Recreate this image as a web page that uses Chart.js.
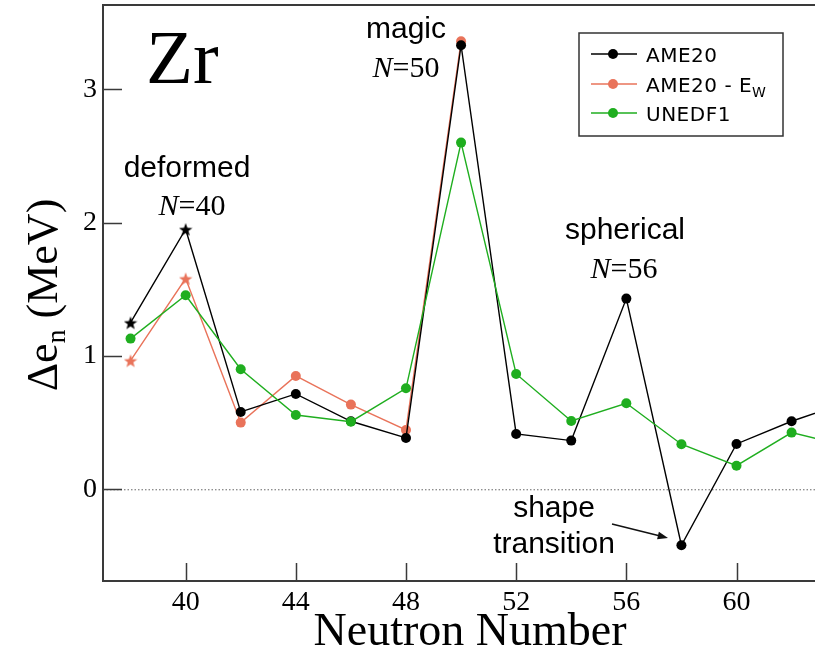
<!DOCTYPE html>
<html lang="en">
<head>
  <meta charset="UTF-8" />
  <title>Zr neutron gap</title>
  <script src="https://cdn.jsdelivr.net/npm/chart.js"></script>
  <style>
    html, body { margin: 0; padding: 0; background: #fff; overflow: hidden; }
    canvas { display: block; }
  </style>
</head>
<body>
  <canvas id="gapChart" width="815" height="655"></canvas>

  <script>
    // Δe_n for Zr isotopes vs neutron number
    const neutronNumber = [38, 40, 42, 44, 46, 48, 50, 52, 54, 56, 58, 60, 62, 64];
    const ame20        = [1.25, 1.95, 0.58, 0.715, 0.51, 0.385, 3.33, 0.415, 0.365, 1.43, -0.42, 0.34, 0.51, 0.65];
    const ame20MinusEw = [0.965, 1.58, 0.50, 0.85, 0.635, 0.445, 3.36];
    const unedf1       = [1.13, 1.455, 0.90, 0.557, 0.507, 0.757, 2.60, 0.865, 0.512, 0.645, 0.338, 0.177, 0.425, 0.325];
    const starredN = [38, 40];   // estimated values, drawn as stars
    const xTicks = [40, 44, 48, 52, 56, 60];
    const yTicks = [0, 1, 2, 3];

    const BLACK = '#000000';
    const SALMON = '#e9735a';
    const GREEN = '#1fae1f';
    const AXIS = '#3a3a3a';

    function makeStar(color, size) {
      const c = document.createElement('canvas');
      c.width = size; c.height = size;
      const g = c.getContext('2d');
      const cx = size / 2, cy = size / 2 + 0.8, R = size / 2, r = R * 0.42;
      g.beginPath();
      for (let i = 0; i < 10; i++) {
        const a = -Math.PI / 2 + i * Math.PI / 5;
        const rr = i % 2 ? r : R;
        g.lineTo(cx + rr * Math.cos(a), cy + rr * Math.sin(a));
      }
      g.closePath();
      g.fillStyle = color;
      g.fill();
      return c;
    }

    function series(values) {
      return values.map((v, i) => ({ x: neutronNumber[i], y: v }));
    }
    function styles(values, star) {
      return values.map((v, i) => starredN.includes(neutronNumber[i]) && star ? star : 'circle');
    }

    const blackStar = makeStar(BLACK, 14);
    const salmonStar = makeStar(SALMON, 14);

    const datasets = [
      { label: 'AME20', data: series(ame20), borderColor: BLACK, backgroundColor: BLACK,
        pointStyle: styles(ame20, blackStar), order: 2 },
      { label: 'AME20 - E_W', data: series(ame20MinusEw), borderColor: SALMON, backgroundColor: SALMON,
        pointStyle: styles(ame20MinusEw, salmonStar), order: 3 },
      { label: 'UNEDF1', data: series(unedf1), borderColor: GREEN, backgroundColor: GREEN,
        pointStyle: 'circle', order: 1 }
    ].map(d => Object.assign({ borderWidth: 1.4, pointRadius: 5, pointBorderWidth: 0, tension: 0 }, d));

    function drawMixed(ctx, parts, cx, y) {
      // parts: [text, font] pairs, centred as a group on cx
      let w = 0;
      parts.forEach(p => { ctx.font = p[1]; w += ctx.measureText(p[0]).width; });
      let x = cx - w / 2;
      ctx.textAlign = 'left';
      parts.forEach(p => { ctx.font = p[1]; ctx.fillText(p[0], x, y); x += ctx.measureText(p[0]).width; });
    }

    const SANS = '30px "Liberation Sans", Arial, sans-serif';
    const SERIF = '30px "Liberation Serif", "Times New Roman", serif';
    const SERIF_I = 'italic 30px "Liberation Serif", "Times New Roman", serif';

    const decorations = {
      id: 'decorations',
      beforeDatasetsDraw(chart) {
        const { ctx, chartArea: a, scales: { y } } = chart;
        const y0 = y.getPixelForValue(0);
        ctx.save();
        ctx.strokeStyle = '#666';
        ctx.lineWidth = 1;
        ctx.setLineDash([1.5, 2]);
        ctx.beginPath();
        ctx.moveTo(a.left, y0 + 0.5);
        ctx.lineTo(a.right, y0 + 0.5);
        ctx.stroke();
        ctx.restore();
      },
      afterDraw(chart) {
        const { ctx, chartArea: a, scales: { x, y } } = chart;
        ctx.save();

        // frame: left, bottom, top
        ctx.strokeStyle = AXIS;
        ctx.lineWidth = 2;
        ctx.beginPath();
        ctx.moveTo(a.right, a.top); ctx.lineTo(a.left, a.top);
        ctx.lineTo(a.left, a.bottom); ctx.lineTo(a.right, a.bottom);
        ctx.stroke();

        // inward tick marks
        ctx.lineWidth = 1.5;
        ctx.beginPath();
        xTicks.forEach(t => {
          const px = Math.round(x.getPixelForValue(t)) + 0.5;
          ctx.moveTo(px, a.bottom); ctx.lineTo(px, a.bottom - 18);
        });
        yTicks.forEach(t => {
          const py = Math.round(y.getPixelForValue(t)) + 0.5;
          ctx.moveTo(a.left, py); ctx.lineTo(a.left + 19, py);
        });
        ctx.stroke();

        ctx.fillStyle = '#000';
        ctx.textBaseline = 'alphabetic';

        // element label
        ctx.textAlign = 'left';
        ctx.font = '77px "Liberation Serif", "Times New Roman", serif';
        ctx.fillText('Zr', 146, 83);

        // annotations
        drawMixed(ctx, [['deformed', SANS]], 187, 177);
        drawMixed(ctx, [['N', SERIF_I], ['=40', SERIF]], 192, 215);
        drawMixed(ctx, [['magic', SANS]], 406, 38);
        drawMixed(ctx, [['N', SERIF_I], ['=50', SERIF]], 406, 77);
        drawMixed(ctx, [['spherical', SANS]], 625, 239);
        drawMixed(ctx, [['N', SERIF_I], ['=56', SERIF]], 624, 278);
        drawMixed(ctx, [['shape', SANS]], 554, 517);
        drawMixed(ctx, [['transition', SANS]], 554, 553);

        // arrow to N=58
        const x1 = 612, y1 = 524, x2 = 668, y2 = 538;
        const ang = Math.atan2(y2 - y1, x2 - x1);
        ctx.strokeStyle = '#111';
        ctx.lineWidth = 1.5;
        ctx.beginPath();
        ctx.moveTo(x1, y1);
        ctx.lineTo(x2 - 8 * Math.cos(ang), y2 - 8 * Math.sin(ang));
        ctx.stroke();
        ctx.beginPath();
        ctx.moveTo(x2, y2);
        ctx.lineTo(x2 - 11 * Math.cos(ang - 0.35), y2 - 11 * Math.sin(ang - 0.35));
        ctx.lineTo(x2 - 11 * Math.cos(ang + 0.35), y2 - 11 * Math.sin(ang + 0.35));
        ctx.closePath();
        ctx.fillStyle = '#111';
        ctx.fill();
        ctx.fillStyle = '#000';

        // axis titles
        ctx.textAlign = 'center';
        ctx.font = '46px "Liberation Serif", "Times New Roman", serif';
        ctx.fillText('Neutron Number', 470, 645);

        ctx.save();
        ctx.translate(57, 295);
        ctx.rotate(-Math.PI / 2);
        const big = '44px "Liberation Serif", "Times New Roman", serif';
        const small = '28px "Liberation Serif", "Times New Roman", serif';
        const pieces = [['Δe', big, 0], ['n', small, 8], [' (MeV)', big, 0]];
        let total = 0;
        pieces.forEach(p => { ctx.font = p[1]; total += ctx.measureText(p[0]).width; });
        let px = -total / 2;
        ctx.textAlign = 'left';
        pieces.forEach(p => { ctx.font = p[1]; ctx.fillText(p[0], px, p[2]); px += ctx.measureText(p[0]).width; });
        ctx.restore();

        // legend
        ctx.fillStyle = '#fff';
        ctx.fillRect(579, 33, 204, 103);
        ctx.strokeStyle = '#333';
        ctx.lineWidth = 1.5;
        ctx.strokeRect(579, 33, 204, 103);
        const rows = [
          [BLACK, [['AME20', 0, 20]], 54],
          [SALMON, [['AME20 - E', 0, 20], ['W', 5, 14]], 84],
          [GREEN, [['UNEDF1', 0, 20]], 113]
        ];
        ctx.textAlign = 'left';
        rows.forEach(([col, txt, ry]) => {
          ctx.strokeStyle = col;
          ctx.lineWidth = 1.4;
          ctx.beginPath(); ctx.moveTo(591, ry); ctx.lineTo(637, ry); ctx.stroke();
          ctx.fillStyle = col;
          ctx.beginPath(); ctx.arc(613, ry, 5, 0, Math.PI * 2); ctx.fill();
          ctx.fillStyle = '#000';
          let tx = 646;
          txt.forEach(([s, dy, size]) => {
            ctx.font = size + 'px "DejaVu Sans", sans-serif';
            ctx.letterSpacing = '0.5px';
            ctx.fillText(s, tx, ry + 8 + dy);
            tx += ctx.measureText(s).width;
          });
        });
        ctx.letterSpacing = '0px';
        ctx.restore();
      }
    };

    new Chart(document.getElementById('gapChart'), {
      type: 'line',
      data: { datasets },
      options: {
        responsive: false,
        animation: false,
        layout: { autoPadding: false, padding: { top: 5, right: 0, left: 0, bottom: 0 } },
        plugins: { legend: { display: false }, tooltip: { enabled: false } },
        scales: {
          x: {
            type: 'linear', min: 37, max: 62.85,
            afterBuildTicks: s => { s.ticks = xTicks.map(v => ({ value: v })); },
            afterFit: s => { s.height = 74; s.paddingLeft = 0; s.paddingRight = 0; },
            grid: { display: false, drawTicks: false },
            border: { display: false },
            ticks: { padding: 5, color: '#000', font: { family: '"Liberation Serif", serif', size: 28 } }
          },
          y: {
            min: -0.688, max: 3.632,
            afterBuildTicks: s => { s.ticks = yTicks.map(v => ({ value: v })); },
            afterFit: s => { s.width = 103; s.paddingTop = 0; s.paddingBottom = 0; },
            grid: { display: false, drawTicks: false },
            border: { display: false },
            ticks: { padding: 6, color: '#000', font: { family: '"Liberation Serif", serif', size: 28 } }
          }
        }
      },
      plugins: [decorations]
    });
  </script>
</body>
</html>
